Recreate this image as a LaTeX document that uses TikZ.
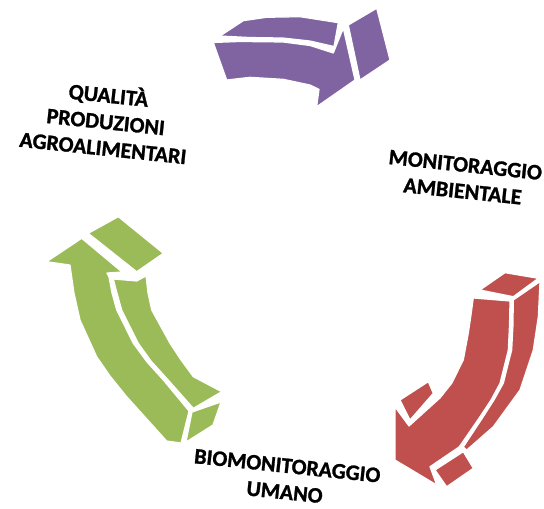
\documentclass[tikz,border=0pt]{standalone}
\usepackage{fontspec}
\setmainfont{Carlito}[BoldFeatures={FakeBold=1.2}]
\definecolor{cpurple}{HTML}{8064A2}
\definecolor{cred}{HTML}{C0504D}
\definecolor{cgreen}{HTML}{9BBB59}
\begin{document}
\begin{tikzpicture}[x=1pt,y=-1pt,
  face/.style={fill=#1,draw=white,line width=1.2pt,line join=round},
  lbl/.style={align=center,font=\fontsize{22}{26.5}\selectfont\bfseries,text=black,rotate=-6,inner sep=0pt}]
\useasboundingbox (0,0) rectangle (544,509);
% purple arrow
\path[face=cpurple] (220,36) -- (243.3,20.7) -- (266.7,17.3) -- (300,16.7) -- (338.3,22.7) -- (334,46.5) -- (310,41) -- (283,38) -- (250,37.5) -- cycle;
\path[face=cpurple] (213.3,42.5) -- (240,41.5) -- (283,42) -- (310,45.5) -- (333.3,53) -- (343.3,28.3) -- (355,80) -- (316.7,106.7) -- (319,89.3) -- (310,85) -- (283.3,79.3) -- (250,77.3) -- (226.7,80) -- cycle;
\path[face=cpurple] (348.3,25) -- (376.7,8.3) -- (390,60) -- (360,80) -- cycle;
% red arrow
\path[face=cred] (480,290) -- (505,272.7) -- (538.3,278.3) -- (513.3,296.7) -- cycle;
\path[face=cred] (473.3,298) -- (510,301) -- (509.5,325) -- (508.3,350) -- (500,383.3) -- (491,400) -- (480,416.7) -- (461.7,443.3) -- (459,447) -- (430,466.7) -- (436.7,485) -- (395,460) -- (395,407) -- (409,426) -- (440,398) -- (451.7,383.3) -- (463.3,360) -- (468.3,333.3) -- (471,315) -- cycle;
\path[face=cred] (513.3,300) -- (540,281.7) -- (538.3,316.7) -- (533.3,350) -- (520,390) -- (493.3,426.7) -- (466.7,450) -- (463.3,447) -- (483.3,416.7) -- (494,400) -- (503.3,383.3) -- (511.7,350) -- (513,325) -- cycle;
\path[face=cred] (400,400) -- (428.3,381.7) -- (433.3,393.3) -- (410,420) -- cycle;
\path[face=cred] (435,470) -- (463.3,451.7) -- (473.3,468.3) -- (446.7,486.7) -- cycle;
% green arrow
\path[face=cgreen] (88.3,233.3) -- (118.3,216.7) -- (163.3,253.3) -- (136.7,271.7) -- cycle;
\path[face=cgreen] (70,265) -- (46.7,261.7) -- (81.7,238.3) -- (122,272) -- (107,273) -- (109,277) -- (112,293) -- (116.7,310) -- (133.3,343.3) -- (147,362) -- (163.3,380) -- (189,411) -- (181,443) -- (166.7,441) -- (126.7,396.7) -- (110,376) -- (96.7,356.7) -- (80,320) -- (74,293) -- cycle;
\path[face=cgreen] (113.3,279) -- (136.7,281) -- (146,276) -- (148,293) -- (151.7,310) -- (170,343.3) -- (181,360) -- (193.3,376.7) -- (221.7,391.7) -- (193.3,408.3) -- (166.7,378.3) -- (151,361) -- (138.3,343.3) -- (121.7,310) -- (117,293) -- cycle;
\path[face=cgreen] (192,412) -- (221,402) -- (213,425) -- (186,442) -- cycle;
% labels
\node[lbl] (q) at (106,120) {QUALITÀ\\PRODUZIONI\\AGROALIMENTARI};
\node[lbl] (m) at (464,178) {MONITORAGGIO\\AMBIENTALE};
\node[lbl] (b) at (286,479) {BIOMONITORAGGIO\\UMANO};
\end{tikzpicture}
\end{document}
